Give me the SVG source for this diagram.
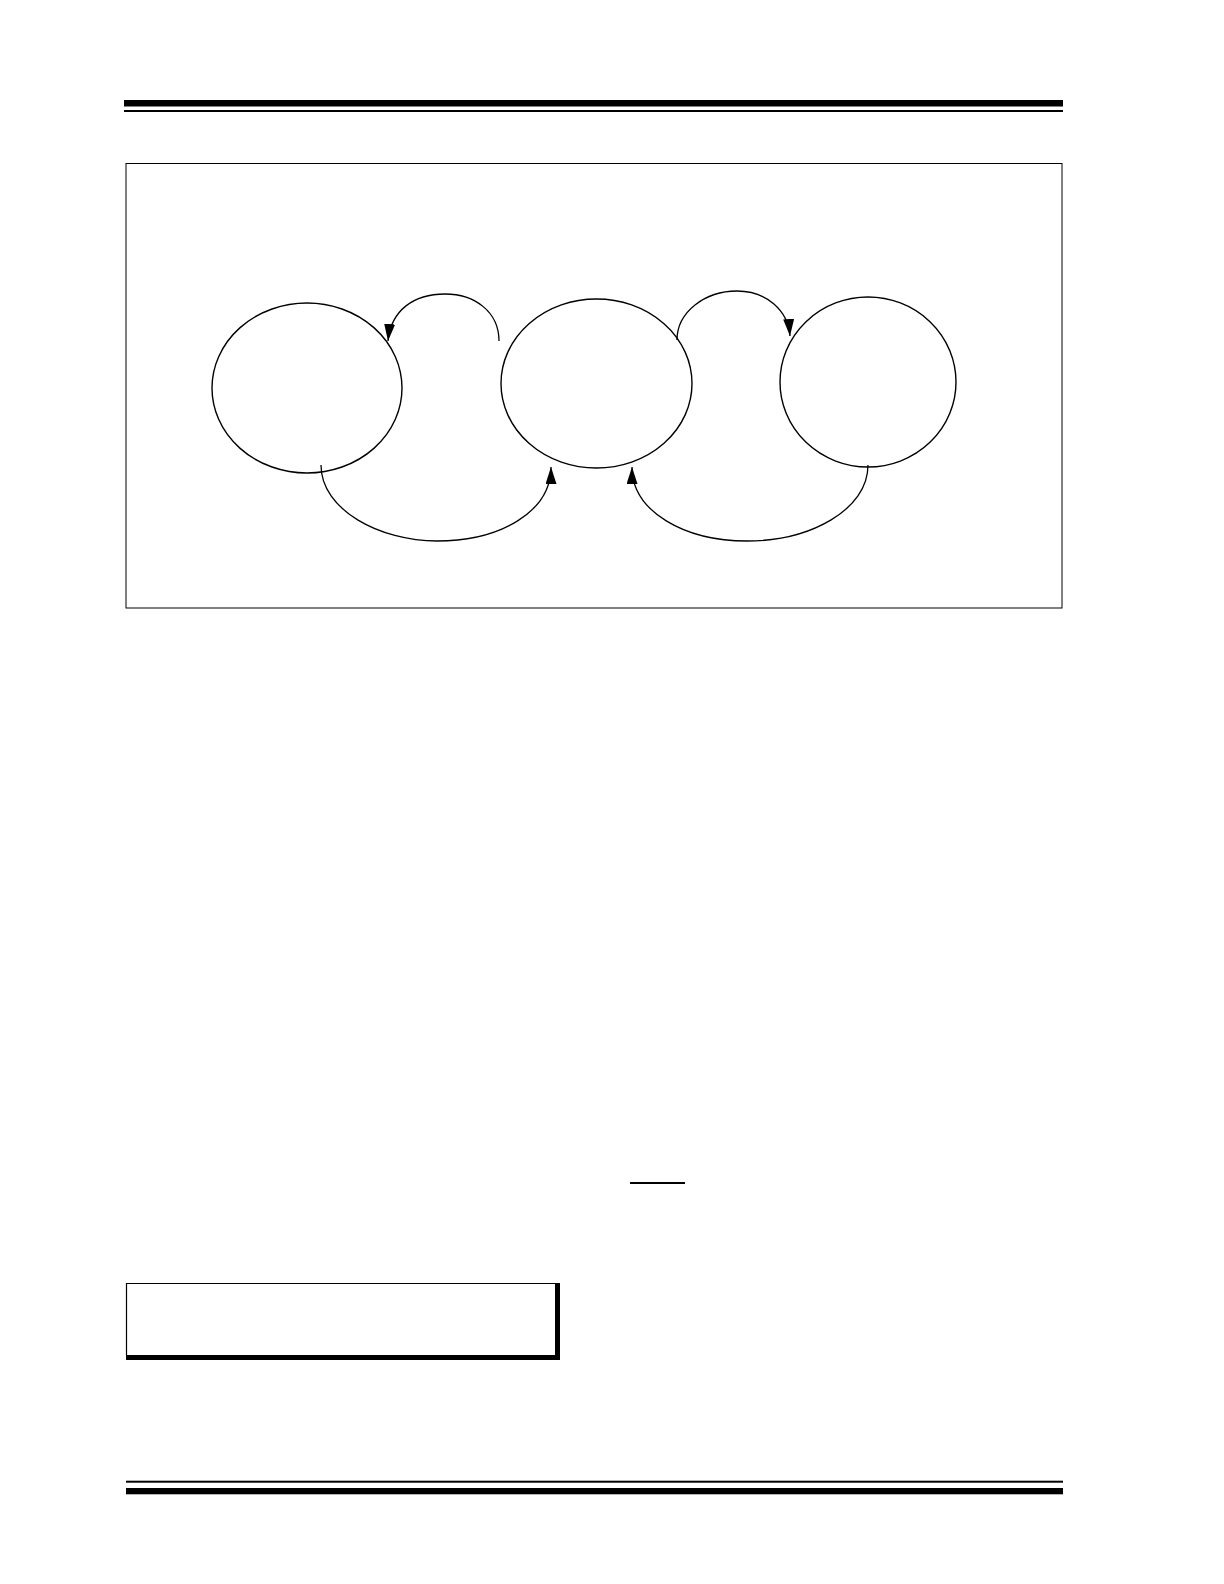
<svg xmlns="http://www.w3.org/2000/svg" width="1224" height="1584" viewBox="0 0 1224 1584">
<style>
.node{fill:none;stroke:#000;stroke-width:1.4}
.conn{fill:none;stroke:#000;stroke-width:1.3}
.bar{fill:#000}
</style>
<defs>
<marker id="ah" markerUnits="userSpaceOnUse" markerWidth="20" markerHeight="12" refX="17" refY="5.5" orient="auto">
<path d="M0,0 L17,5.5 L0,11 z" fill="#000"/>
</marker>
</defs>
<rect width="1224" height="1584" fill="#fff"/>
<g id="header">
<rect class="bar" x="124" y="100" width="939" height="6.5"/>
<rect class="bar" x="124" y="110" width="939" height="2"/>
</g>
<rect id="frame" x="126" y="163.5" width="936" height="444.5" fill="none" stroke="#000" stroke-width="1"/>
<g id="node-left"><ellipse class="node" cx="307" cy="388" rx="95" ry="85"/></g>
<g id="node-middle"><ellipse class="node" cx="596.5" cy="383.5" rx="95.5" ry="84.5"/></g>
<g id="node-right"><ellipse class="node" cx="868" cy="382" rx="88" ry="85"/></g>
<g id="connectors">
<path class="conn" marker-end="url(#ah)" d="M499 341 C499 312 475 294 445 294 C414 294 391 310 388 341"/>
<path class="conn" marker-end="url(#ah)" d="M677 340 C677 312 705 291 737 291 C766 291 788 310 790 336"/>
<path class="conn" marker-end="url(#ah)" d="M321 465 C321 510 380 541 437 541 C500 541 551 512 551 467"/>
<path class="conn" marker-end="url(#ah)" d="M868 465 C868 510 810 541 747 541 C685 541 632 512 632 467"/>
</g>
<line id="overline" x1="630" y1="1183" x2="685" y2="1183" stroke="#000" stroke-width="1.8"/>
<g id="note-box">
<path d="M126.5 1355 V1283.5 H555" fill="none" stroke="#000" stroke-width="1.2"/>
<rect class="bar" x="555" y="1283" width="5" height="77"/>
<rect class="bar" x="126" y="1355" width="434" height="5"/>
</g>
<g id="footer">
<rect class="bar" x="126" y="1480.7" width="937" height="2"/>
<rect class="bar" x="126" y="1488" width="937" height="6.3"/>
</g>
</svg>
